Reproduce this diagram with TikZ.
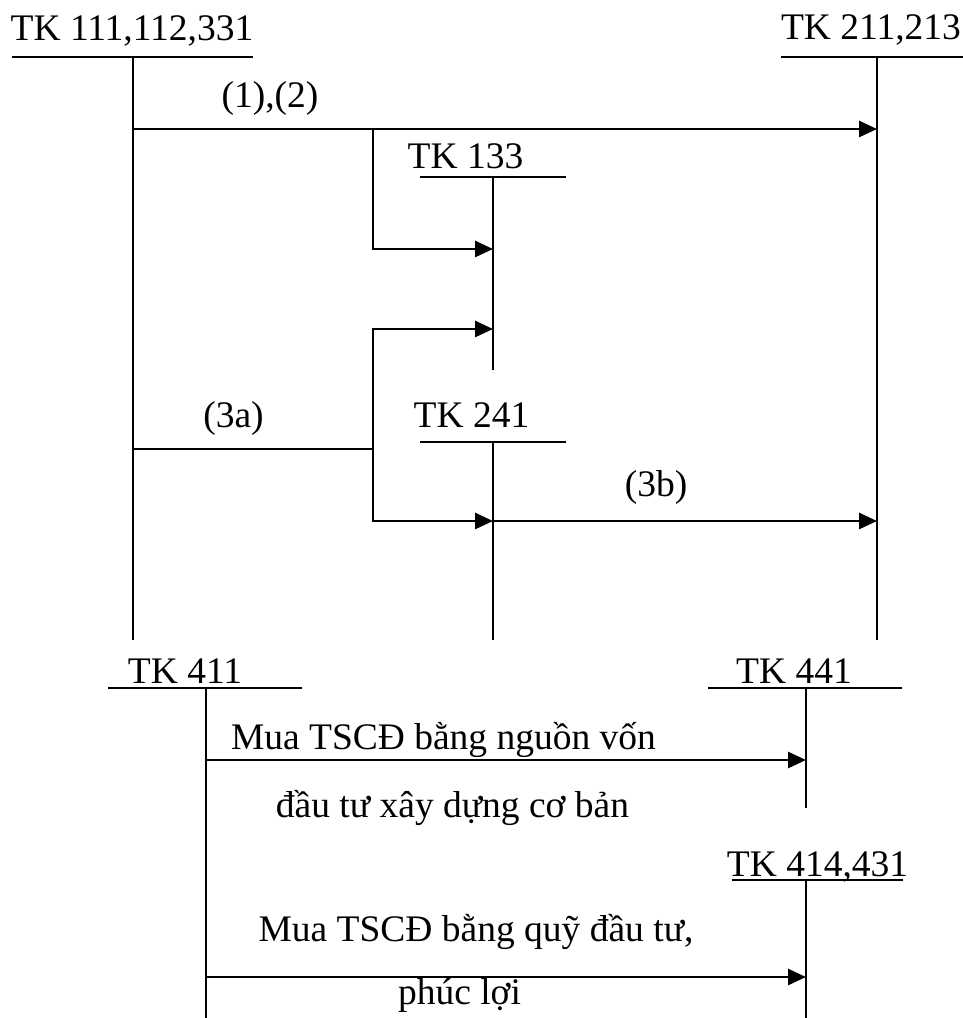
\documentclass[tikz,border=0pt]{standalone}
\usepackage{fontspec}
\setmainfont{Liberation Serif}
\usetikzlibrary{arrows.meta}
\begin{document}
\begin{tikzpicture}[x=1pt,y=-1pt,
  lbl/.style={inner sep=0pt,anchor=base,font=\fontsize{37.5}{42}\selectfont},
  acc/.style={line width=2.8pt},
  under/.style={line width=2.4pt},
  flow/.style={line width=2.8pt},
  arr/.style={flow,-{Triangle[length=18pt,width=16pt]}}]
\useasboundingbox (0,0) rectangle (963,1018);
% account labels
\node[lbl] (t1) at (132,40) {TK 111,112,331};
\node[lbl] (t2) at (871,39) {TK 211,213};
\node[lbl] (t133) at (465.5,168) {TK 133};
\node[lbl] (t241) at (471.5,427) {TK 241};
\node[lbl] (t411) at (185,683) {TK 411};
\node[lbl] (t441) at (794,683) {TK 441};
\node[lbl] (t414) at (817.5,876) {TK 414,431};
% flow labels
\node[lbl] (l12) at (270,107) {(1),(2)};
\node[lbl] (l3a) at (233.5,427) {(3a)};
\node[lbl] (l3b) at (656,496) {(3b)};
\node[lbl] (m1) at (443.5,749) {Mua TSCĐ bằng nguồn vốn};
\node[lbl] (m2) at (452.5,817) {đầu tư xây dựng cơ bản};
\node[lbl] (m3) at (476,941) {Mua TSCĐ bằng quỹ đầu tư,};
\node[lbl] (m4) at (459.5,1004) {phúc lợi};
% T-account skeletons
\coordinate (a1) at (133,57); \coordinate (a1e) at (133,640);
\coordinate (a2) at (877,57); \coordinate (a2e) at (877,640);
\coordinate (a3) at (493,177); \coordinate (a3e) at (493,370);
\coordinate (a4) at (493,442); \coordinate (a4e) at (493,640);
\coordinate (a5) at (206,688); \coordinate (a5e) at (206,1018);
\coordinate (a6) at (806,688); \coordinate (a6e) at (806,808);
\coordinate (a7) at (806,880); \coordinate (a7e) at (806,1018);
\draw[under] (12,57) -- (253,57);
\draw[under] (781,57) -- (963,57);
\draw[under] (420,177) -- (566,177);
\draw[under] (420,442) -- (566,442);
\draw[under] (108,688) -- (302,688);
\draw[under] (708,688) -- (902,688);
\draw[under] (732,880) -- (903,880);
\draw[acc] (a1) -- (a1e);
\draw[acc] (a2) -- (a2e);
\draw[acc] (a3) -- (a3e);
\draw[acc] (a4) -- (a4e);
\draw[acc] (a5) -- (a5e);
\draw[acc] (a6) -- (a6e);
\draw[acc] (a7) -- (a7e);
% flows
\coordinate (b1) at (133,129); \coordinate (e1) at (877,129);
\coordinate (j1) at (373,129);
\coordinate (e133a) at (493,249);
\coordinate (e133b) at (493,329);
\coordinate (s3) at (133,449); \coordinate (j3) at (373,449);
\coordinate (e241) at (493,521); \coordinate (e211) at (877,521);
\coordinate (s411a) at (206,760); \coordinate (e441) at (806,760);
\coordinate (s411b) at (206,977); \coordinate (e414) at (806,977);
\draw[arr] (b1) -- (e1);
\draw[arr] (j1) |- (e133a);
\draw[flow] (s3) -- (j3);
\draw[arr] (j3) |- (e133b);
\draw[arr] (j3) |- (e241);
\draw[arr] (e241) -- (e211);
\draw[arr] (s411a) -- (e441);
\draw[arr] (s411b) -- (e414);
\end{tikzpicture}
\end{document}
